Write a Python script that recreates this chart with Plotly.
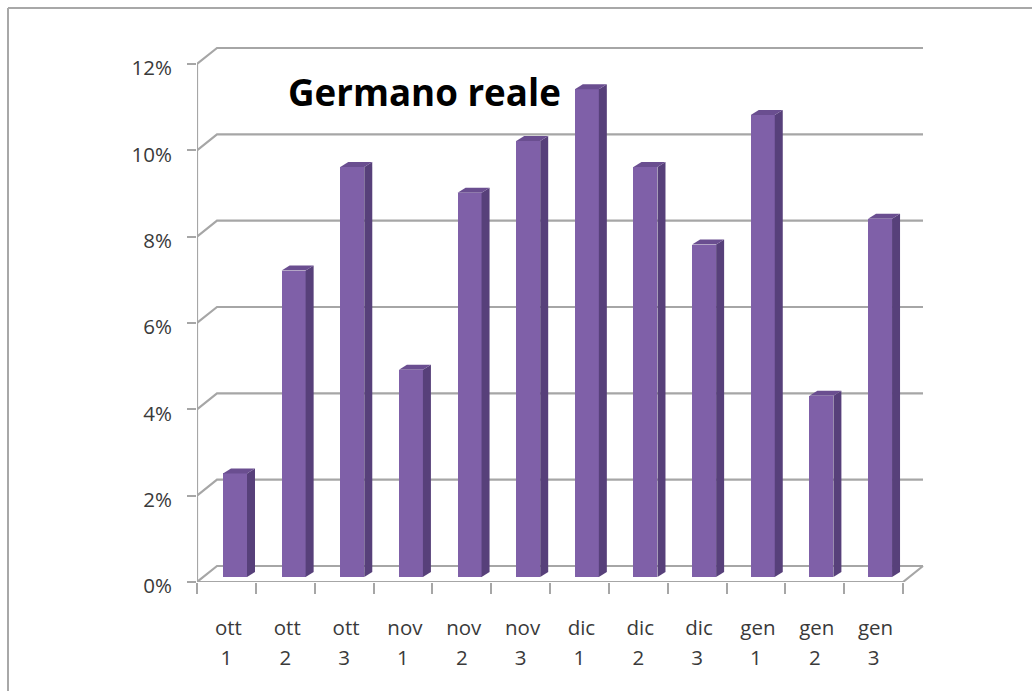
import plotly.graph_objects as go

# Data
months = ["ott", "ott", "ott", "nov", "nov", "nov", "dic", "dic", "dic", "gen", "gen", "gen"]
decades = ["1", "2", "3", "1", "2", "3", "1", "2", "3", "1", "2", "3"]
values = [2.4, 7.1, 9.5, 4.8, 8.9, 10.1, 11.3, 9.5, 7.7, 10.7, 4.2, 8.3]
y_ticks = [0, 2, 4, 6, 8, 10, 12]
y_labels = ["0%", "2%", "4%", "6%", "8%", "10%", "12%"]
title_text = "Germano reale"

# Layout in pixels
W, H = 1032, 691
L, R, T, B = 197, 930, 40, 582
PX_X = (903 - 197) / 12
PX_Y = (582 - 64) / 12
xr = [0, (R - L) / PX_X]
yr = [0, (B - T) / PX_Y]
WALL_DX, WALL_DY = 20 / PX_X, 16 / PX_Y
BAR_START = (223 - L) / PX_X
BAR_STEP = 58.64 / PX_X
BAR_SHIFT_Y = 5 / PX_Y
BAR_W = 24 / PX_X
SIDE_DX, SIDE_DY = 8 / PX_X, 5 / PX_Y
GRID = "#A6A6A6"
FRONT, SIDE, TOP = "#7F60A8", "#57407A", "#6A4E90"
FONT = "Open Sans"
TXT = "#3a3a3a"

centers = [i + 0.5 for i in range(len(values))]
bar_left = [BAR_START + i * BAR_STEP for i in range(len(values))]

# Grid wall, floor and axis lines
gx, gy = [], []
for t in y_ticks:
    gx += [0, WALL_DX, 12 + WALL_DX, None]
    gy += [t, t + WALL_DY, t + WALL_DY, None]
gx += [0, 0, None, 0, 12, 12 + WALL_DX, None]
gy += [0, 12, None, 0, 0, WALL_DY, None]

fig = go.Figure()
fig.add_trace(go.Scatter(x=gx, y=gy, mode="lines", line=dict(color=GRID, width=2.2),
                         hoverinfo="skip", showlegend=False, xaxis="x", yaxis="y"))

# Side and top faces derive from the values
for x0, v in zip(bar_left, values):
    x1 = x0 + BAR_W
    top = v + BAR_SHIFT_Y
    fig.add_trace(go.Scatter(
        x=[x1, x1 + SIDE_DX, x1 + SIDE_DX, x1, x1],
        y=[BAR_SHIFT_Y, BAR_SHIFT_Y + SIDE_DY, top + SIDE_DY, top, BAR_SHIFT_Y],
        mode="lines", fill="toself", fillcolor=SIDE, line=dict(width=0),
        hoverinfo="skip", showlegend=False, xaxis="x2", yaxis="y"))
    fig.add_trace(go.Scatter(
        x=[x0, x0 + SIDE_DX, x1 + SIDE_DX, x1, x0],
        y=[top, top + SIDE_DY, top + SIDE_DY, top, top],
        mode="lines", fill="toself", fillcolor=TOP, line=dict(width=0),
        hoverinfo="skip", showlegend=False, xaxis="x2", yaxis="y"))

fig.add_trace(go.Bar(x=[x + BAR_W / 2 for x in bar_left], y=values, base=BAR_SHIFT_Y,
                     width=BAR_W, marker=dict(color=FRONT, line=dict(width=0)),
                     showlegend=False, xaxis="x2", yaxis="y",
                     customdata=[f"{m} {d}" for m, d in zip(months, decades)],
                     hovertemplate="%{customdata}: %{y}%<extra></extra>"))

# Picture frame, top and left edges
fx = lambda p: (p - L) / (R - L)
fy = lambda p: (B - p) / (B - T)
frame = [
    dict(type="line", xref="paper", yref="paper", x0=fx(8), x1=fx(W), y0=fy(8), y1=fy(8),
         line=dict(color="#A8A8A8", width=2)),
    dict(type="line", xref="paper", yref="paper", x0=fx(8), x1=fx(8), y0=fy(8), y1=fy(H),
         line=dict(color="#A8A8A8", width=2)),
]

fig.update_layout(
    width=W, height=H, margin=dict(l=L, r=W - R, t=T, b=H - B),
    paper_bgcolor="white", plot_bgcolor="white", showlegend=False,
    shapes=frame, bargap=0,
    font=dict(family=FONT, color=TXT, size=16),
    title=dict(text=f"<b>{title_text}</b>", x=288 / W, xanchor="left", y=1 - 93 / H, yanchor="middle",
               font=dict(family=FONT, size=36.7, color="#000000")),
    xaxis=dict(range=xr, showgrid=False, zeroline=False, showline=False, ticks="",
               tickmode="array", tickvals=centers, ticktext=months,
               tickfont=dict(size=20.5, family=FONT, color=TXT), tickangle=0,
               ticklabelstandoff=31, ticklabelshift=2,
               minor=dict(tickmode="array", tickvals=list(range(13)), ticks="outside",
                          ticklen=11, tickcolor=GRID, tickwidth=1.5)),
    xaxis2=dict(range=xr, overlaying="x", anchor="y", side="bottom", showgrid=False,
                zeroline=False, showline=False, ticks="",
                tickmode="array", tickvals=centers, ticktext=decades,
                tickfont=dict(size=20.5, family=FONT, color=TXT), tickangle=0,
                ticklabelstandoff=61),
    yaxis=dict(range=yr, showgrid=False, zeroline=False, showline=False, ticks="outside",
               ticklen=9, tickcolor=GRID, tickwidth=1.5, tickmode="array",
               tickvals=y_ticks, ticktext=y_labels, tickfont=dict(size=20.5, family=FONT, color=TXT),
               ticklabelstandoff=11, ticklabelshift=4),
)

fig.write_html("out.html", config={"displayModeBar": False},
               post_script="document.body.style.margin='0';")
